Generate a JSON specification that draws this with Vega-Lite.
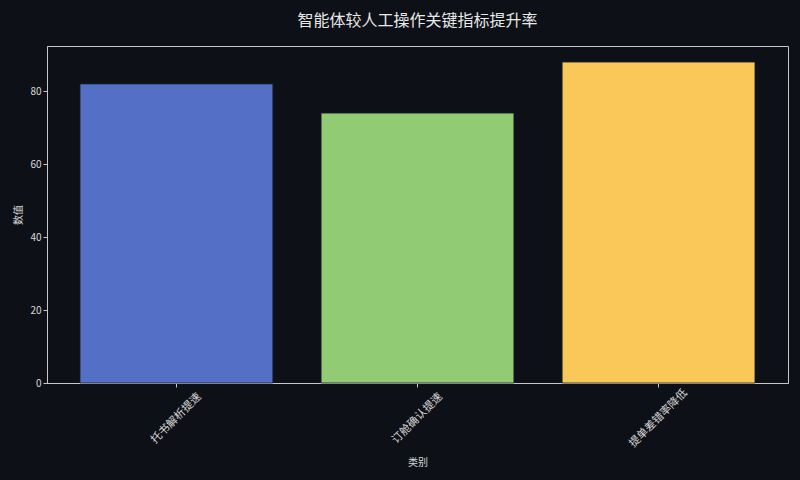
{
  "$schema": "https://vega.github.io/schema/vega-lite/v6.json",
  "autosize": {"type": "none"},
  "width": 741,
  "height": 337,
  "padding": {"left": 47, "top": 46, "right": 12, "bottom": 97},
  "background": "#0d1017",
  "title": {
    "text": "智能体较人工操作关键指标提升率",
    "font": "Noto Sans CJK SC",
    "fontSize": 16,
    "fontWeight": "normal",
    "color": "#e8e8e8",
    "anchor": "middle",
    "baseline": "middle",
    "offset": 9
  },
  "data": {
    "values": [
      {"category": "托书解析提速", "value": 82},
      {"category": "订舱确认提速", "value": 74},
      {"category": "提单差错率降低", "value": 88}
    ]
  },
  "mark": {"type": "bar", "stroke": "#1c2029", "strokeWidth": 0.8},
  "encoding": {
    "x": {
      "field": "category",
      "type": "nominal",
      "sort": null,
      "scale": {"paddingInner": 0.2, "paddingOuter": 0.137},
      "axis": {
        "title": "类别",
        "labelAngle": -45,
        "labelAlign": "center",
        "labelBaseline": "middle",
        "labelPadding": 31,
        "labelOverlap": false,
        "labelFontSize": 11,
        "titleY": 79,
        "titleBaseline": "middle"
      }
    },
    "y": {
      "field": "value",
      "type": "quantitative",
      "scale": {"domain": [0, 92.4], "nice": false},
      "axis": {
        "title": "数值",
        "values": [0, 20, 40, 60, 80],
        "grid": false,
        "titleX": -29,
        "titleY": 168.5,
        "titleBaseline": "middle",
        "titleAlign": "center",
        "titleAngle": -90
      }
    },
    "color": {
      "field": "category",
      "type": "nominal",
      "sort": null,
      "scale": {"range": ["#5470c6", "#91cc75", "#fac858"]},
      "legend": null
    }
  },
  "config": {
    "font": "Noto Sans CJK SC",
    "view": {"stroke": "#c8c8c8", "strokeWidth": 1},
    "axis": {
      "domainColor": "#c8c8c8",
      "tickColor": "#c8c8c8",
      "tickSize": 4,
      "labelColor": "#d8d8d8",
      "labelFontSize": 10,
      "titleColor": "#d8d8d8",
      "titleFontSize": 10,
      "titleFontWeight": "normal"
    }
  }
}
